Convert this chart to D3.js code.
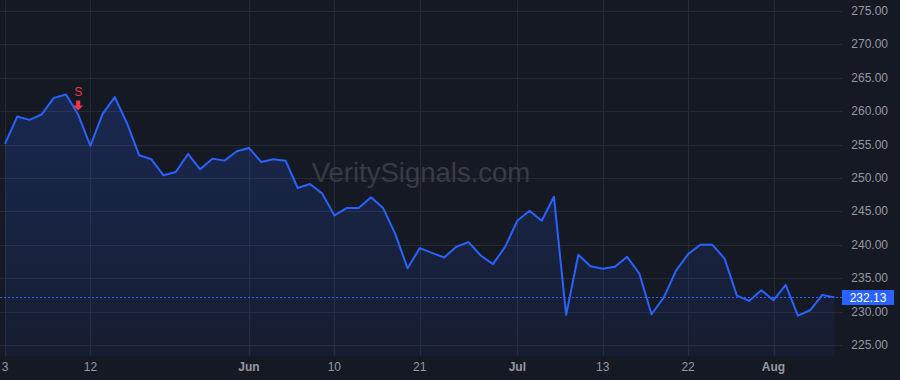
<!DOCTYPE html>
<html>
<head>
<meta charset="utf-8">
<script src="https://cdn.jsdelivr.net/npm/d3@7"></script>
<style>
  html, body { margin: 0; padding: 0; background: #151924; }
  #draw { width: 900px; height: 380px; }
</style>
</head>
<body>
<div id="draw"></div>
<script>
// daily closes, one per trading day
let prices = [
  255.1, 259.2, 258.7, 259.5, 262.0, 262.5, 259.5, 254.8, 259.6, 262.1,
  258.2, 253.4, 252.8, 250.4, 250.9, 253.6, 251.3, 252.9, 252.6, 254.0,
  254.5, 252.4, 252.8, 252.6, 248.5, 249.1, 247.7, 244.4, 245.5, 245.5,
  247.1, 245.5, 241.6, 236.5, 239.5, 238.8, 238.1, 239.7, 240.4, 238.4,
  237.1, 239.7, 243.6, 245.1, 243.6, 247.2, 229.5, 238.5, 236.8, 236.4,
  236.7, 238.2, 235.7, 229.6, 232.1, 236.1, 238.6, 240.0, 240.0, 237.9,
  232.4, 231.6, 233.2, 231.7, 234.0, 229.4, 230.2, 232.5, 232.13
];
// time axis labels, by bar index
let tickIdx = [0, 7, 20, 27, 34, 42, 49, 56, 63];
let tickLabels = ['3', '12', 'Jun', '10', '21', 'Jul', '13', '22', 'Aug'];
let monthLabels = ['Jun', 'Jul', 'Aug'];
let priceTicks = [225, 230, 235, 240, 245, 250, 255, 260, 265, 270, 275];
// sell signal
let signalIdx = [6];
let signalText = 'S';

let W = 900, H = 380;
let plotW = 842, plotH = 356;

let svg = d3.select('#draw').append('svg')
  .attr('width', W).attr('height', H)
  .style('font-family', '"Liberation Sans", Arial, sans-serif');

svg.append('rect').attr('width', W).attr('height', H).attr('fill', '#151924');

let x = d3.scaleLinear().domain([0, prices.length - 1]).range([5, 834.5]);
let y = d3.scaleLinear().domain([225, 275]).range([345, 11]);

// gridlines
svg.append('g').selectAll('line').data(priceTicks).join('line')
  .attr('x1', 0).attr('x2', plotW)
  .attr('y1', d => Math.round(y(d)) + 0.5).attr('y2', d => Math.round(y(d)) + 0.5)
  .attr('stroke', '#262a35').attr('stroke-width', 1);
svg.append('g').selectAll('line').data(tickIdx).join('line')
  .attr('x1', d => Math.round(x(d)) + 0.5).attr('x2', d => Math.round(x(d)) + 0.5)
  .attr('y1', 0).attr('y2', plotH)
  .attr('stroke', '#262a35').attr('stroke-width', 1);

// watermark
svg.append('text')
  .attr('x', 421).attr('y', 182)
  .attr('text-anchor', 'middle')
  .attr('font-size', 27.5)
  .attr('fill', '#383c47')
  .text('VeritySignals.com');

// area gradient
let grad = svg.append('defs').append('linearGradient')
  .attr('id', 'areagrad').attr('x1', 0).attr('y1', 0).attr('x2', 0).attr('y2', 1);
grad.append('stop').attr('offset', '0%').attr('stop-color', '#2962ff').attr('stop-opacity', 0.2);
grad.append('stop').attr('offset', '100%').attr('stop-color', '#2962ff').attr('stop-opacity', 0.06);

let area = d3.area().x((d, i) => x(i)).y0(plotH).y1(d => y(d));
svg.append('path').datum(prices)
  .attr('d', area).attr('fill', 'url(#areagrad)');

let line = d3.line().x((d, i) => x(i)).y(d => y(d));
svg.append('path').datum(prices)
  .attr('d', line).attr('fill', 'none')
  .attr('stroke', '#2962ff').attr('stroke-width', 2)
  .attr('stroke-linejoin', 'round');

// last price line
let last = prices[prices.length - 1];
svg.append('line')
  .attr('x1', 0).attr('x2', plotW)
  .attr('y1', Math.round(y(last)) + 0.5).attr('y2', Math.round(y(last)) + 0.5)
  .attr('stroke', '#2962ff').attr('stroke-width', 1)
  .attr('stroke-dasharray', '2,2');

// sell markers
signalIdx.forEach(function(i) {
  let cx = x(i), top = y(prices[i]) - 4;
  svg.append('path')
    .attr('d', 'M' + (cx - 2) + ',' + (top - 10) + 'h4v5h3l-5,5l-5,-5h3z')
    .attr('fill', '#f23645');
  svg.append('text')
    .attr('x', cx).attr('y', top - 15)
    .attr('text-anchor', 'middle')
    .attr('font-size', 12).attr('fill', '#f23645')
    .text(signalText);
});

// price axis
svg.append('g').selectAll('text').data(priceTicks).join('text')
  .attr('x', 888).attr('y', d => y(d) + 4)
  .attr('text-anchor', 'end')
  .attr('font-size', 12).attr('fill', '#9598a1')
  .text(d => d.toFixed(2));

svg.append('rect')
  .attr('x', 842).attr('y', Math.round(y(last)) - 7)
  .attr('width', 52).attr('height', 15)
  .attr('fill', '#2962ff');
svg.append('text')
  .attr('x', 868).attr('y', Math.round(y(last)) + 4.5)
  .attr('text-anchor', 'middle')
  .attr('font-size', 12).attr('fill', '#ffffff')
  .text(last.toFixed(2));

// time axis
svg.append('g').selectAll('text').data(tickIdx).join('text')
  .attr('x', d => x(d)).attr('y', 371)
  .attr('text-anchor', 'middle')
  .attr('font-size', 12)
  .attr('font-weight', (d, i) => monthLabels.includes(tickLabels[i]) ? 'bold' : 'normal')
  .attr('fill', '#9598a1')
  .text((d, i) => tickLabels[i]);
</script>
</body>
</html>
